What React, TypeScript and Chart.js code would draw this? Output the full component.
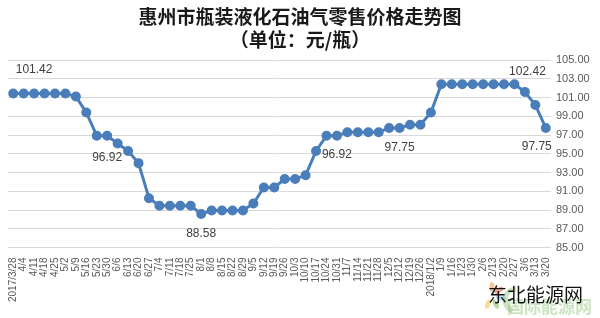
import React, { useEffect, useRef } from "react";
import { Chart, registerables } from "chart.js";

Chart.register(...registerables);

// Weekly dates (2017/3/28 – 2018/3/20)
const weekLabels: string[] = [
  "2017/3/28", "4/4", "4/11", "4/18", "4/25", "5/2", "5/9", "5/16", "5/23", "5/30",
  "6/6", "6/13", "6/20", "6/27", "7/4", "7/11", "7/18", "7/25", "8/1", "8/8",
  "8/15", "8/22", "8/29", "9/5", "9/12", "9/19", "9/26", "10/3", "10/10", "10/17",
  "10/24", "10/31", "11/7", "11/14", "11/21", "11/28", "12/5", "12/12", "12/19", "12/26",
  "2018/1/2", "1/9", "1/16", "1/23", "1/30", "2/6", "2/13", "2/20", "2/27", "3/6",
  "3/13", "3/20",
];

// Retail price, yuan per bottle
const priceValues: number[] = [
  101.42, 101.42, 101.42, 101.42, 101.42, 101.42, 101.1, 99.4, 96.92, 96.92,
  96.1, 95.3, 94.0, 90.26, 89.45, 89.45, 89.45, 89.45, 88.58, 88.95,
  88.95, 88.95, 88.95, 89.7, 91.4, 91.4, 92.3, 92.3, 92.7, 95.3,
  96.92, 96.92, 97.3, 97.3, 97.3, 97.3, 97.75, 97.75, 98.1, 98.1,
  99.4, 102.42, 102.42, 102.42, 102.42, 102.42, 102.42, 102.42, 102.42, 101.6,
  100.2, 97.75,
];

// Points that carry a value label: index, offset x, offset y
const labelIndexes: number[] = [2, 9, 18, 31, 37, 48, 51];
const labelDx: number[] = [0, 0, 0, 0, 0, 13, -9];
const labelDy: number[] = [-24, 22, 20, 19, 20, -13, 19];

const yTicks = { min: 85, max: 105, step: 2 };

const titleLines: string[] = ["惠州市瓶装液化石油气零售价格走势图", "（单位：元/瓶）"];
const markText = "东北能源网";
const markSubText = "国际能源网";

const LINE_BLUE = "#4a7ebb";

const titlePlugin = {
  id: "titleText",
  afterDraw(chart: any) {
    const ctx = chart.ctx as CanvasRenderingContext2D;
    const cx = chart.width / 2;
    ctx.save();
    ctx.fillStyle = "#1a1a1a";
    ctx.textAlign = "center";
    ctx.textBaseline = "middle";
    ctx.font = 'bold 19px "Noto Sans CJK SC"';
    ctx.fillText(titleLines[0], cx, 17);
    ctx.fillText(titleLines[1], cx, 40);
    ctx.restore();
  },
};

const valueLabelPlugin = {
  id: "valueLabels",
  afterDatasetsDraw(chart: any) {
    const ctx = chart.ctx as CanvasRenderingContext2D;
    const meta = chart.getDatasetMeta(0);
    const data = chart.data.datasets[0].data as number[];
    ctx.save();
    ctx.fillStyle = "#404040";
    ctx.textAlign = "center";
    ctx.textBaseline = "middle";
    ctx.font = '12px "Liberation Sans"';
    labelIndexes.forEach((idx, k) => {
      const pt = meta.data[idx];
      ctx.fillText(data[idx].toFixed(2), pt.x + labelDx[k], pt.y + labelDy[k]);
    });
    ctx.restore();
  },
};

const markPlugin = {
  id: "siteMark",
  afterDraw(chart: any) {
    const ctx = chart.ctx as CanvasRenderingContext2D;
    ctx.save();
    // small flower-like emblem
    const petals = ["#f4a261", "#e76f51", "#8ecae6", "#90be6d", "#f9c74f"];
    petals.forEach((c, i) => {
      const a = -Math.PI / 2 + i * 0.9;
      ctx.fillStyle = c;
      ctx.globalAlpha = 0.6;
      ctx.beginPath();
      ctx.ellipse(492 + Math.cos(a) * 9, 296 + Math.sin(a) * 9, 5, 2.5, a, 0, Math.PI * 2);
      ctx.fill();
    });
    ctx.globalAlpha = 0.35;
    ctx.strokeStyle = "#6ab04c";
    ctx.lineWidth = 5;
    ctx.beginPath();
    ctx.arc(516, 300, 11, Math.PI * 0.6, Math.PI * 1.5);
    ctx.stroke();
    ctx.globalAlpha = 0.35;
    ctx.fillStyle = "#6ab04c";
    ctx.textAlign = "left";
    ctx.textBaseline = "middle";
    ctx.font = 'bold 17px "Noto Sans CJK SC"';
    ctx.fillText(markSubText, 507, 307);
    ctx.globalAlpha = 1;
    ctx.fillStyle = "#111111";
    ctx.font = '19px "Noto Sans CJK SC"';
    ctx.fillText(markText, 488, 295);
    ctx.restore();
  },
};

export default function App() {
  const canvasRef = useRef<HTMLCanvasElement | null>(null);

  useEffect(() => {
    document.body.style.margin = "0";
    const canvas = canvasRef.current;
    if (!canvas) return;
    const chart = new Chart(canvas, {
      type: "line",
      data: {
        labels: weekLabels,
        datasets: [
          {
            data: priceValues,
            borderColor: LINE_BLUE,
            backgroundColor: LINE_BLUE,
            pointBackgroundColor: LINE_BLUE,
            pointBorderColor: LINE_BLUE,
            borderWidth: 3,
            pointRadius: 3.5,
            tension: 0,
          },
        ],
      },
      options: {
        animation: false,
        responsive: true,
        maintainAspectRatio: false,
        layout: { padding: { top: 60, left: 8, right: 0, bottom: 14 } },
        plugins: {
          legend: { display: false },
          tooltip: { enabled: false },
          title: { display: false },
        },
        scales: {
          x: {
            offset: true,
            grid: { display: false },
            border: { display: false },
            ticks: {
              autoSkip: false,
              maxRotation: 90,
              minRotation: 90,
              padding: 2,
              color: "#595959",
              font: { size: 10, family: '"Liberation Sans"' },
            },
          },
          y: {
            position: "right",
            min: yTicks.min,
            max: yTicks.max,
            border: { display: false },
            grid: { color: "#d9d9d9", drawTicks: false, lineWidth: 1 },
            afterFit: (axis: any) => {
              axis.width = 49;
            },
            ticks: {
              stepSize: yTicks.step,
              padding: 5,
              color: "#595959",
              font: { size: 11, family: '"Liberation Sans Narrow", "Liberation Sans"' },
              callback: (v: any) => Number(v).toFixed(2),
            },
          },
        },
      },
      plugins: [titlePlugin, valueLabelPlugin, markPlugin],
    });
    return () => chart.destroy();
  }, []);

  return (
    <div style={{ width: 600, height: 318, position: "relative", background: "#ffffff" }}>
      <canvas ref={canvasRef} />
    </div>
  );
}
